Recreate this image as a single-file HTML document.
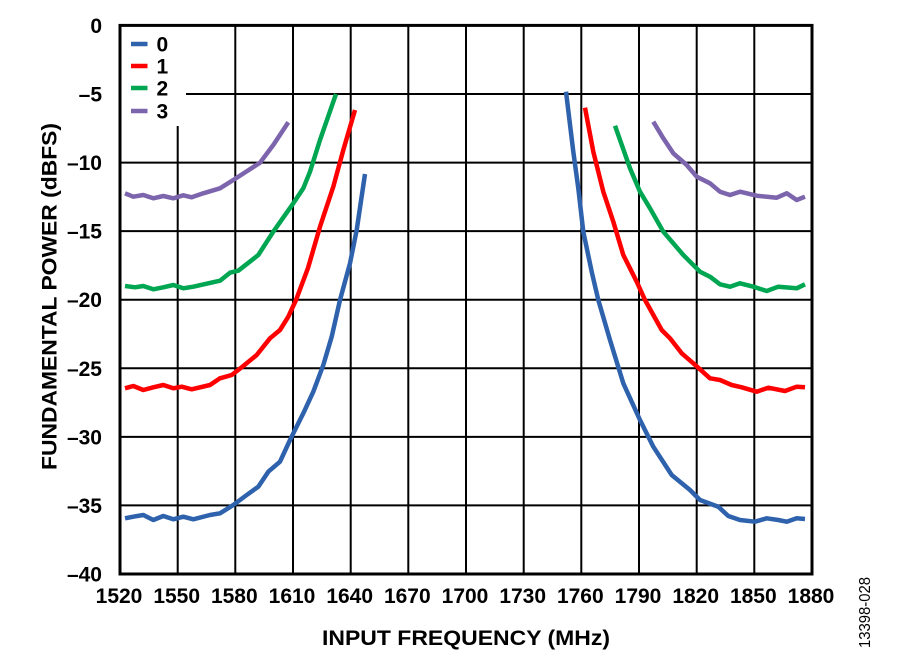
<!DOCTYPE html>
<html><head><meta charset="utf-8"><style>
html,body{margin:0;padding:0;background:#fff;}
svg{display:block;}
text{font-family:"Liberation Sans",Arial,sans-serif;fill:#000;}
</style></head><body>
<svg width="900" height="658" viewBox="0 0 900 658" xmlns="http://www.w3.org/2000/svg">
<rect width="900" height="658" fill="#fff"/>
<g stroke="#000" stroke-width="2">
<line x1="177.7" y1="25.4" x2="177.7" y2="574"/>
<line x1="235.3" y1="25.4" x2="235.3" y2="574"/>
<line x1="293" y1="25.4" x2="293" y2="574"/>
<line x1="350.7" y1="25.4" x2="350.7" y2="574"/>
<line x1="408.3" y1="25.4" x2="408.3" y2="574"/>
<line x1="466" y1="25.4" x2="466" y2="574"/>
<line x1="523.7" y1="25.4" x2="523.7" y2="574"/>
<line x1="581.3" y1="25.4" x2="581.3" y2="574"/>
<line x1="639" y1="25.4" x2="639" y2="574"/>
<line x1="696.7" y1="25.4" x2="696.7" y2="574"/>
<line x1="754.3" y1="25.4" x2="754.3" y2="574"/>
<line x1="120" y1="94" x2="812" y2="94"/>
<line x1="120" y1="162.6" x2="812" y2="162.6"/>
<line x1="120" y1="231.1" x2="812" y2="231.1"/>
<line x1="120" y1="299.7" x2="812" y2="299.7"/>
<line x1="120" y1="368.3" x2="812" y2="368.3"/>
<line x1="120" y1="436.9" x2="812" y2="436.9"/>
<line x1="120" y1="505.4" x2="812" y2="505.4"/>
</g>
<rect x="121" y="26" width="65" height="100" fill="#fff"/>
<rect x="120" y="25.4" width="692" height="548.6" fill="none" stroke="#000" stroke-width="3"/>
<g fill="none" stroke-width="4.5" stroke-linejoin="round" stroke-linecap="butt">
<polyline stroke="#7d65ae" points="125,193.3 133.3,196.7 143.3,195 153.3,198.3 163.3,196 173.3,198.3 183.3,195.3 191.7,197.3 203.3,193.3 220,188.3 233.3,180 260,162.7 273.3,145 288.3,122.3"/>
<polyline stroke="#00a651" points="125,286 135,287.3 143.3,286 153.3,289.3 163.3,287.3 173.3,285 183.3,288.3 193.3,286.7 220,280.7 230,272.7 238.3,270.7 258.3,255 273.3,231.7 293.3,203.3 303.3,188.3 310,171.7 320,140 336,94"/>
<polyline stroke="#ff0000" points="125,388.3 133.3,386 143.3,390 153.3,387.3 163.3,385 173.3,388.3 181.7,386.7 191.7,389.3 210,385 220,378.3 231.7,375 243.3,366 256.7,355 270,338.3 280,330 288.3,316.7 296,300 308,268 320,226.7 333.3,186.7 343.3,150 355,110"/>
<polyline stroke="#2e62ac" points="125,518.3 133.3,516.7 143.3,515 153.3,520 163.3,516 173.3,519.3 183.3,516.7 193.3,519.3 210,515 220,513.3 233.3,505 246.7,495 258.3,486.7 268.3,471.7 280,461.7 290,440 303.3,413.3 313.3,391.7 323.3,365 331.7,336.7 340,300 350,263.3 356.7,230 365,174"/>
<polyline stroke="#2e62ac" points="566,91.7 573.3,151.7 578.3,188.3 583.3,231.7 591.7,271.7 598.3,300 610,340 623.3,383.3 640,420 653.3,446.7 671.7,475 690,490 700,500 718.3,506.7 728.3,516 740,520 755,521.7 766.7,518.3 778.3,520 786.7,521.7 796.7,518.3 805,519"/>
<polyline stroke="#ff0000" points="585,107.7 593.3,151.7 603.3,191.7 613.3,221.7 623.3,255 636.7,281.7 645,300 661.7,330 670,338.3 681.7,353.3 693.3,363.3 710,378.3 720,380 731.7,385 741.7,387.3 756.7,391.7 768.3,387.7 785,391 796.7,386.7 805,387.3"/>
<polyline stroke="#00a651" points="615,125.7 630,168.3 640,191.7 650,208.3 663.3,231.7 683.3,255 700,271.7 710,276.7 720,284.3 730,286.7 740,283.3 753.3,286.7 766.7,291 778.3,286.7 796.7,288.3 805,284.3"/>
<polyline stroke="#7d65ae" points="653.3,121.7 663.3,138.3 673.3,153.3 686.7,165 696.7,176.7 710,183.3 720,191.7 730,195 740,191.7 756.7,195.7 776.7,197.7 786.7,193.3 796.7,200 805,196.7"/>
</g>
<g stroke-width="4.5">
<line x1="131" y1="44" x2="147.5" y2="44" stroke="#2e62ac"/>
<line x1="131" y1="66" x2="147.5" y2="66" stroke="#ff0000"/>
<line x1="131" y1="88" x2="147.5" y2="88" stroke="#00a651"/>
<line x1="131" y1="111" x2="147.5" y2="111" stroke="#7d65ae"/>
</g>
<g font-size="21" font-weight="bold">
<text x="156.5" y="51.5">0</text>
<text x="156.5" y="73.5">1</text>
<text x="156.5" y="95.5">2</text>
<text x="156.5" y="118.5">3</text>
</g>
<g font-size="21" font-weight="bold" text-anchor="end">
<text x="102" y="33">0</text>
<text x="102" y="101.5">–5</text>
<text x="102" y="170.1">–10</text>
<text x="102" y="238.6">–15</text>
<text x="102" y="307.2">–20</text>
<text x="102" y="375.8">–25</text>
<text x="102" y="444.4">–30</text>
<text x="102" y="512.9">–35</text>
<text x="102" y="581.5">–40</text>
</g>
<g font-size="21" font-weight="bold" text-anchor="middle">
<text x="119" y="603">1520</text>
<text x="176.7" y="603">1550</text>
<text x="234.3" y="603">1580</text>
<text x="292" y="603">1610</text>
<text x="349.7" y="603">1640</text>
<text x="407.3" y="603">1670</text>
<text x="465" y="603">1700</text>
<text x="522.7" y="603">1730</text>
<text x="580.3" y="603">1760</text>
<text x="638" y="603">1790</text>
<text x="695.7" y="603">1820</text>
<text x="753.3" y="603">1850</text>
<text x="811" y="603">1880</text>
</g>
<text x="466" y="645" font-size="21" font-weight="bold" text-anchor="middle" textLength="288" lengthAdjust="spacingAndGlyphs">INPUT FREQUENCY (MHz)</text>
<text transform="translate(56.5,296.5) rotate(-90)" x="0" y="0" font-size="21" font-weight="bold" text-anchor="middle" textLength="347" lengthAdjust="spacingAndGlyphs">FUNDAMENTAL POWER (dBFS)</text>
<text transform="translate(870,612.5) rotate(-90)" x="0" y="0" font-size="15.5" text-anchor="middle" textLength="71" lengthAdjust="spacingAndGlyphs">13398-028</text>
</svg>
</body></html>
